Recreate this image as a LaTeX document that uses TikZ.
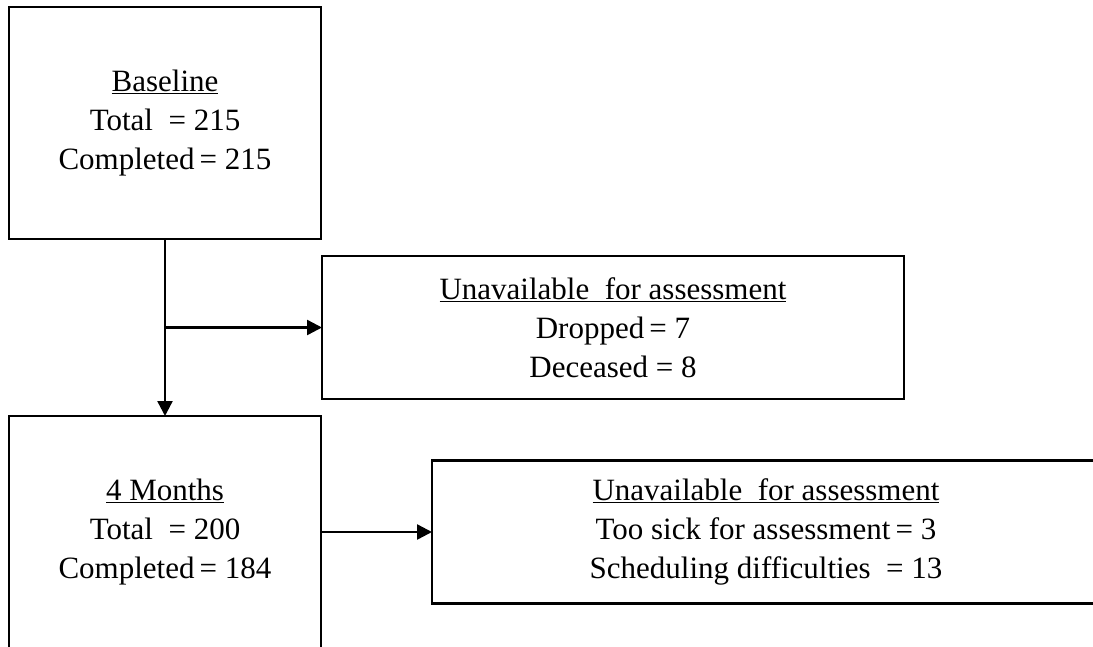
\documentclass[tikz,border=0pt]{standalone}
\usepackage{fontspec}
\setmainfont{Liberation Serif}
\usetikzlibrary{arrows.meta,positioning}

\begin{document}
\begin{tikzpicture}[
  x=1pt, y=1pt,
  box/.style={rectangle, draw, line width=2.4pt, outer sep=0pt, inner sep=0pt,
              minimum width=312pt, minimum height=232pt, align=center},
  arr/.style={-{Triangle[length=15pt,width=15pt]}, line width=2.4pt},
  font=\fontsize{31}{39}\selectfont
]
\useasboundingbox (0,0) rectangle (1093,-646);

% Baseline
\node[box] (base) at (165,-123) {\underline{Baseline}\\Total~ = 215\\Completed\,= 215};

% Unavailable after baseline
\node[box, minimum width=582pt, minimum height=143pt,
      below right=17pt and 1pt of base.south east] (un1)
      {\underline{Unavailable~ for assessment}\\Dropped\,= 7\\Deceased = 8};

% 4 months
\node[box, below=177pt of base] (m4) {\underline{4 Months}\\Total~ = 200\\Completed\,= 184};

% Unavailable after 4 months
\node[box, minimum width=668pt, minimum height=143pt, right=111pt of m4] (un2)
      {\underline{Unavailable~ for assessment}\\Too sick for assessment\,= 3\\Scheduling difficulties~ = 13};

% Arrows
\draw[arr] (base) -- (m4);
\draw[arr] (base |- un1) -- (un1);
\draw[arr] (m4) -- (un2);
\end{tikzpicture}
\end{document}
